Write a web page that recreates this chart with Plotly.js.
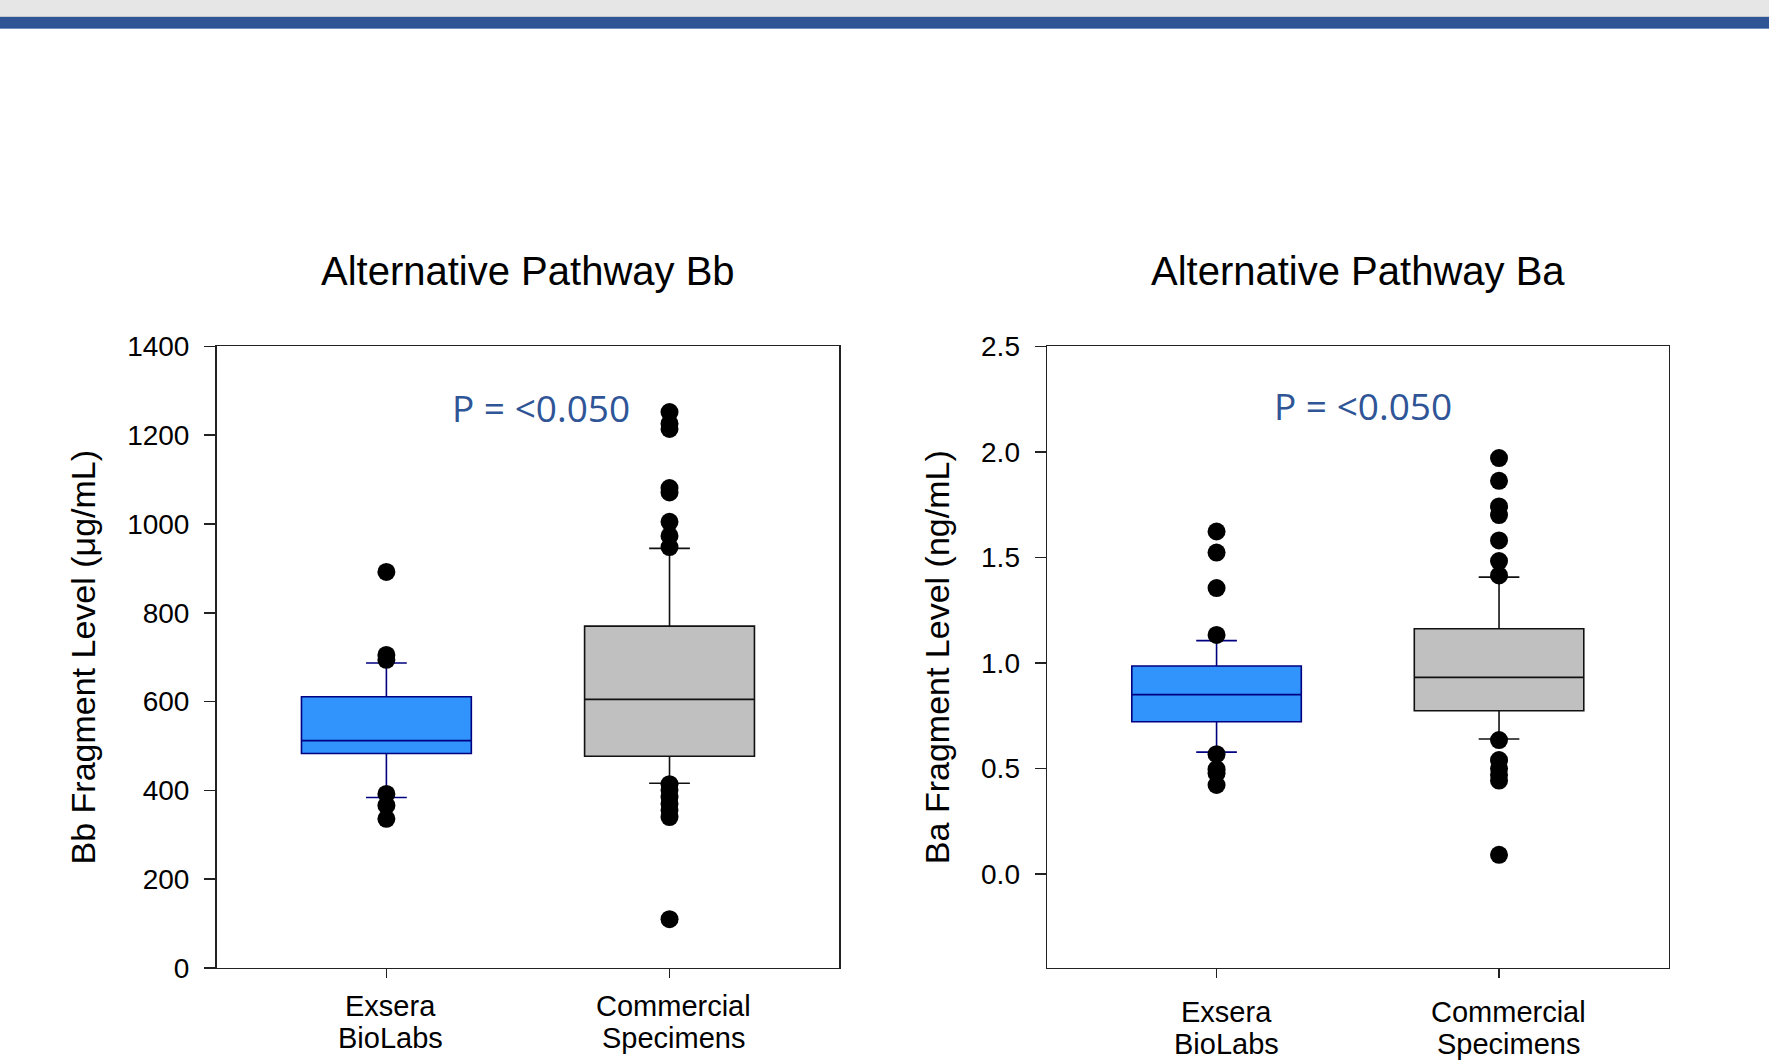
<!DOCTYPE html>
<html>
<head>
<meta charset="utf-8">
<script src="https://cdn.plot.ly/plotly-3.0.1.min.js"></script>
<style>html,body{margin:0;padding:0;background:#fff;}</style>
</head>
<body>
<div id="chart" style="width:1769px;height:1060px;"></div>
<script>
// ---- data ----
var categories = ['Exsera BioLabs', 'Commercial Specimens'];
var categoryLabelLines = [['Exsera', 'BioLabs'], ['Commercial', 'Specimens']];

// Bb fragment (ug/mL) box statistics: [Exsera, Commercial]
var bbQ1 = [483, 477];
var bbMedian = [512, 605];
var bbQ3 = [611, 770];
var bbLowerWhisker = [384, 416];
var bbUpperWhisker = [687, 945];
var bbExseraOutliers = [892, 705, 694, 392, 366, 336];
var bbCommercialOutliers = [1252, 1226, 1214, 1081, 1071, 1005, 973, 948, 414, 401, 385, 370, 356, 340, 110];

// Ba fragment (ng/mL) box statistics: [Exsera, Commercial]
var baQ1 = [0.722, 0.774];
var baMedian = [0.850, 0.932];
var baQ3 = [0.986, 1.162];
var baLowerWhisker = [0.578, 0.640];
var baUpperWhisker = [1.106, 1.407];
var baExseraOutliers = [1.623, 1.523, 1.355, 1.133, 0.568, 0.497, 0.478, 0.422];
var baCommercialOutliers = [1.971, 1.863, 1.742, 1.701, 1.581, 1.483, 1.415, 0.635, 0.540, 0.500, 0.470, 0.443, 0.091];

var bbTicks = [0, 200, 400, 600, 800, 1000, 1200, 1400];
var baTicks = [0.0, 0.5, 1.0, 1.5, 2.0, 2.5];

var titleLeft = 'Alternative Pathway Bb';
var titleRight = 'Alternative Pathway Ba';
var pText = 'P = <0.050';
var yTitleLeft = 'Bb Fragment Level (μg/mL)';
var yTitleRight = 'Ba Fragment Level (ng/mL)';

// ---- styles ----
var FONT = 'Liberation Sans, Arial, sans-serif';
var exseraFill = '#3094fc', exseraLine = '#000080';
var commFill = '#c0c0c0', commLine = '#111111';
var axisColor = '#222222';

function boxTrace(i, q1, med, q3, lo, hi, fill, line, xa, ya) {
  return {
    type: 'box', x: [categories[i]], q1: [q1[i]], median: [med[i]], q3: [q3[i]],
    lowerfence: [lo[i]], upperfence: [hi[i]],
    width: 0.6, whiskerwidth: 0.24, boxpoints: false,
    fillcolor: fill, line: {color: line, width: 1.6},
    xaxis: xa, yaxis: ya, showlegend: false, hoverinfo: 'y'
  };
}
function outlierTrace(i, vals, xa, ya) {
  return {
    type: 'scatter', mode: 'markers',
    x: vals.map(function(){ return categories[i]; }), y: vals,
    marker: {color: '#000000', size: 18, line: {width: 0}},
    xaxis: xa, yaxis: ya, showlegend: false, hoverinfo: 'y'
  };
}

var data = [
  boxTrace(0, bbQ1, bbMedian, bbQ3, bbLowerWhisker, bbUpperWhisker, exseraFill, exseraLine, 'x', 'y'),
  boxTrace(1, bbQ1, bbMedian, bbQ3, bbLowerWhisker, bbUpperWhisker, commFill, commLine, 'x', 'y'),
  outlierTrace(0, bbExseraOutliers, 'x', 'y'),
  outlierTrace(1, bbCommercialOutliers, 'x', 'y'),
  boxTrace(0, baQ1, baMedian, baQ3, baLowerWhisker, baUpperWhisker, exseraFill, exseraLine, 'x2', 'y2'),
  boxTrace(1, baQ1, baMedian, baQ3, baLowerWhisker, baUpperWhisker, commFill, commLine, 'x2', 'y2'),
  outlierTrace(0, baExseraOutliers, 'x2', 'y2'),
  outlierTrace(1, baCommercialOutliers, 'x2', 'y2')
];

function xAxis(domain, anchor) {
  return {
    domain: domain, anchor: anchor, type: 'category',
    range: [-0.6, 1.6], tickvals: categories, showticklabels: false,
    ticks: 'outside', ticklen: 9, tickwidth: 1.5, tickcolor: axisColor,
    showline: true, linecolor: axisColor, linewidth: 1.5, mirror: true,
    showgrid: false, zeroline: false, fixedrange: true
  };
}
function yAxis(domain, anchor, range, ticks, fmt, title) {
  return {
    domain: domain, anchor: anchor, range: range,
    tickmode: 'array', tickvals: ticks, tickformat: fmt,
    ticks: 'outside', ticklen: 11, tickwidth: 1.5, tickcolor: axisColor,
    ticklabelstandoff: 9,
    showline: true, linecolor: axisColor, linewidth: 1.5, mirror: true,
    showgrid: false, zeroline: false, fixedrange: true,
    tickfont: {family: FONT, size: 28, color: '#000'},
    title: {text: title, font: {family: FONT, size: 34, color: '#000'}, standoff: 21}
  };
}

var yDom = [0.0868, 0.6732];
var annotations = [
  {text: titleLeft, xref: 'x domain', yref: 'paper', x: 0.5, y: 1 - 270.7/1060, xanchor: 'center', yanchor: 'middle', showarrow: false, font: {family: FONT, size: 40, color: '#000'}},
  {text: titleRight, xref: 'x2 domain', yref: 'paper', x: 0.5, y: 1 - 270.7/1060, xanchor: 'center', yanchor: 'middle', showarrow: false, font: {family: FONT, size: 40, color: '#000'}},
  {text: pText, xref: 'paper', yref: 'paper', x: 541/1769, y: 1 - 407.7/1060, xanchor: 'center', yanchor: 'middle', showarrow: false, font: {family: 'Open Sans, sans-serif', size: 37, color: '#2f5597'}},
  {text: pText, xref: 'paper', yref: 'paper', x: 1363/1769, y: 1 - 405.5/1060, xanchor: 'center', yanchor: 'middle', showarrow: false, font: {family: 'Open Sans, sans-serif', size: 37, color: '#2f5597'}}
];
// category labels (two lines each) under both x axes
var labelRows = {x: [1006, 1038], x2: [1012, 1043.5]};
var labelShift = {x: 0.015, x2: 0.035};
['x', 'x2'].forEach(function(ax) {
  categories.forEach(function(cat, i) {
    categoryLabelLines[i].forEach(function(line, j) {
      annotations.push({
        text: line, xref: ax, yref: 'paper', x: i + labelShift[ax], y: 1 - labelRows[ax][j]/1060,
        xanchor: 'center', yanchor: 'middle', showarrow: false,
        font: {family: FONT, size: 29, color: '#000'}
      });
    });
  });
});

var layout = {
  width: 1769, height: 1060,
  margin: {l: 0, r: 0, t: 0, b: 0},
  paper_bgcolor: '#ffffff', plot_bgcolor: '#ffffff',
  showlegend: false,
  xaxis: xAxis([0.1224, 0.4745], 'y'),
  yaxis: yAxis(yDom, 'x', [0, 1400], bbTicks, 'd', yTitleLeft),
  xaxis2: xAxis([0.5919, 0.9432], 'y2'),
  yaxis2: yAxis(yDom, 'x2', [-0.445, 2.5], baTicks, '.1f', yTitleRight),
  shapes: [
    {type: 'rect', xref: 'paper', yref: 'paper', x0: 0, x1: 1, y0: 1 - 16/1060, y1: 1, fillcolor: '#e6e6e6', line: {width: 0}, layer: 'below'},
    {type: 'rect', xref: 'paper', yref: 'paper', x0: 0, x1: 1, y0: 1 - 17/1060, y1: 1 - 16/1060, fillcolor: '#c4c8cf', line: {width: 0}, layer: 'below'},
    {type: 'rect', xref: 'paper', yref: 'paper', x0: 0, x1: 1, y0: 1 - 28/1060, y1: 1 - 17/1060, fillcolor: '#2f5597', line: {width: 0}, layer: 'below'},
    {type: 'rect', xref: 'paper', yref: 'paper', x0: 0, x1: 1, y0: 1 - 29/1060, y1: 1 - 28/1060, fillcolor: '#7090c4', line: {width: 0}, layer: 'below'}
  ],
  annotations: annotations
};

Plotly.newPlot('chart', data, layout, {displayModeBar: false, staticPlot: true});
</script>
</body>
</html>
